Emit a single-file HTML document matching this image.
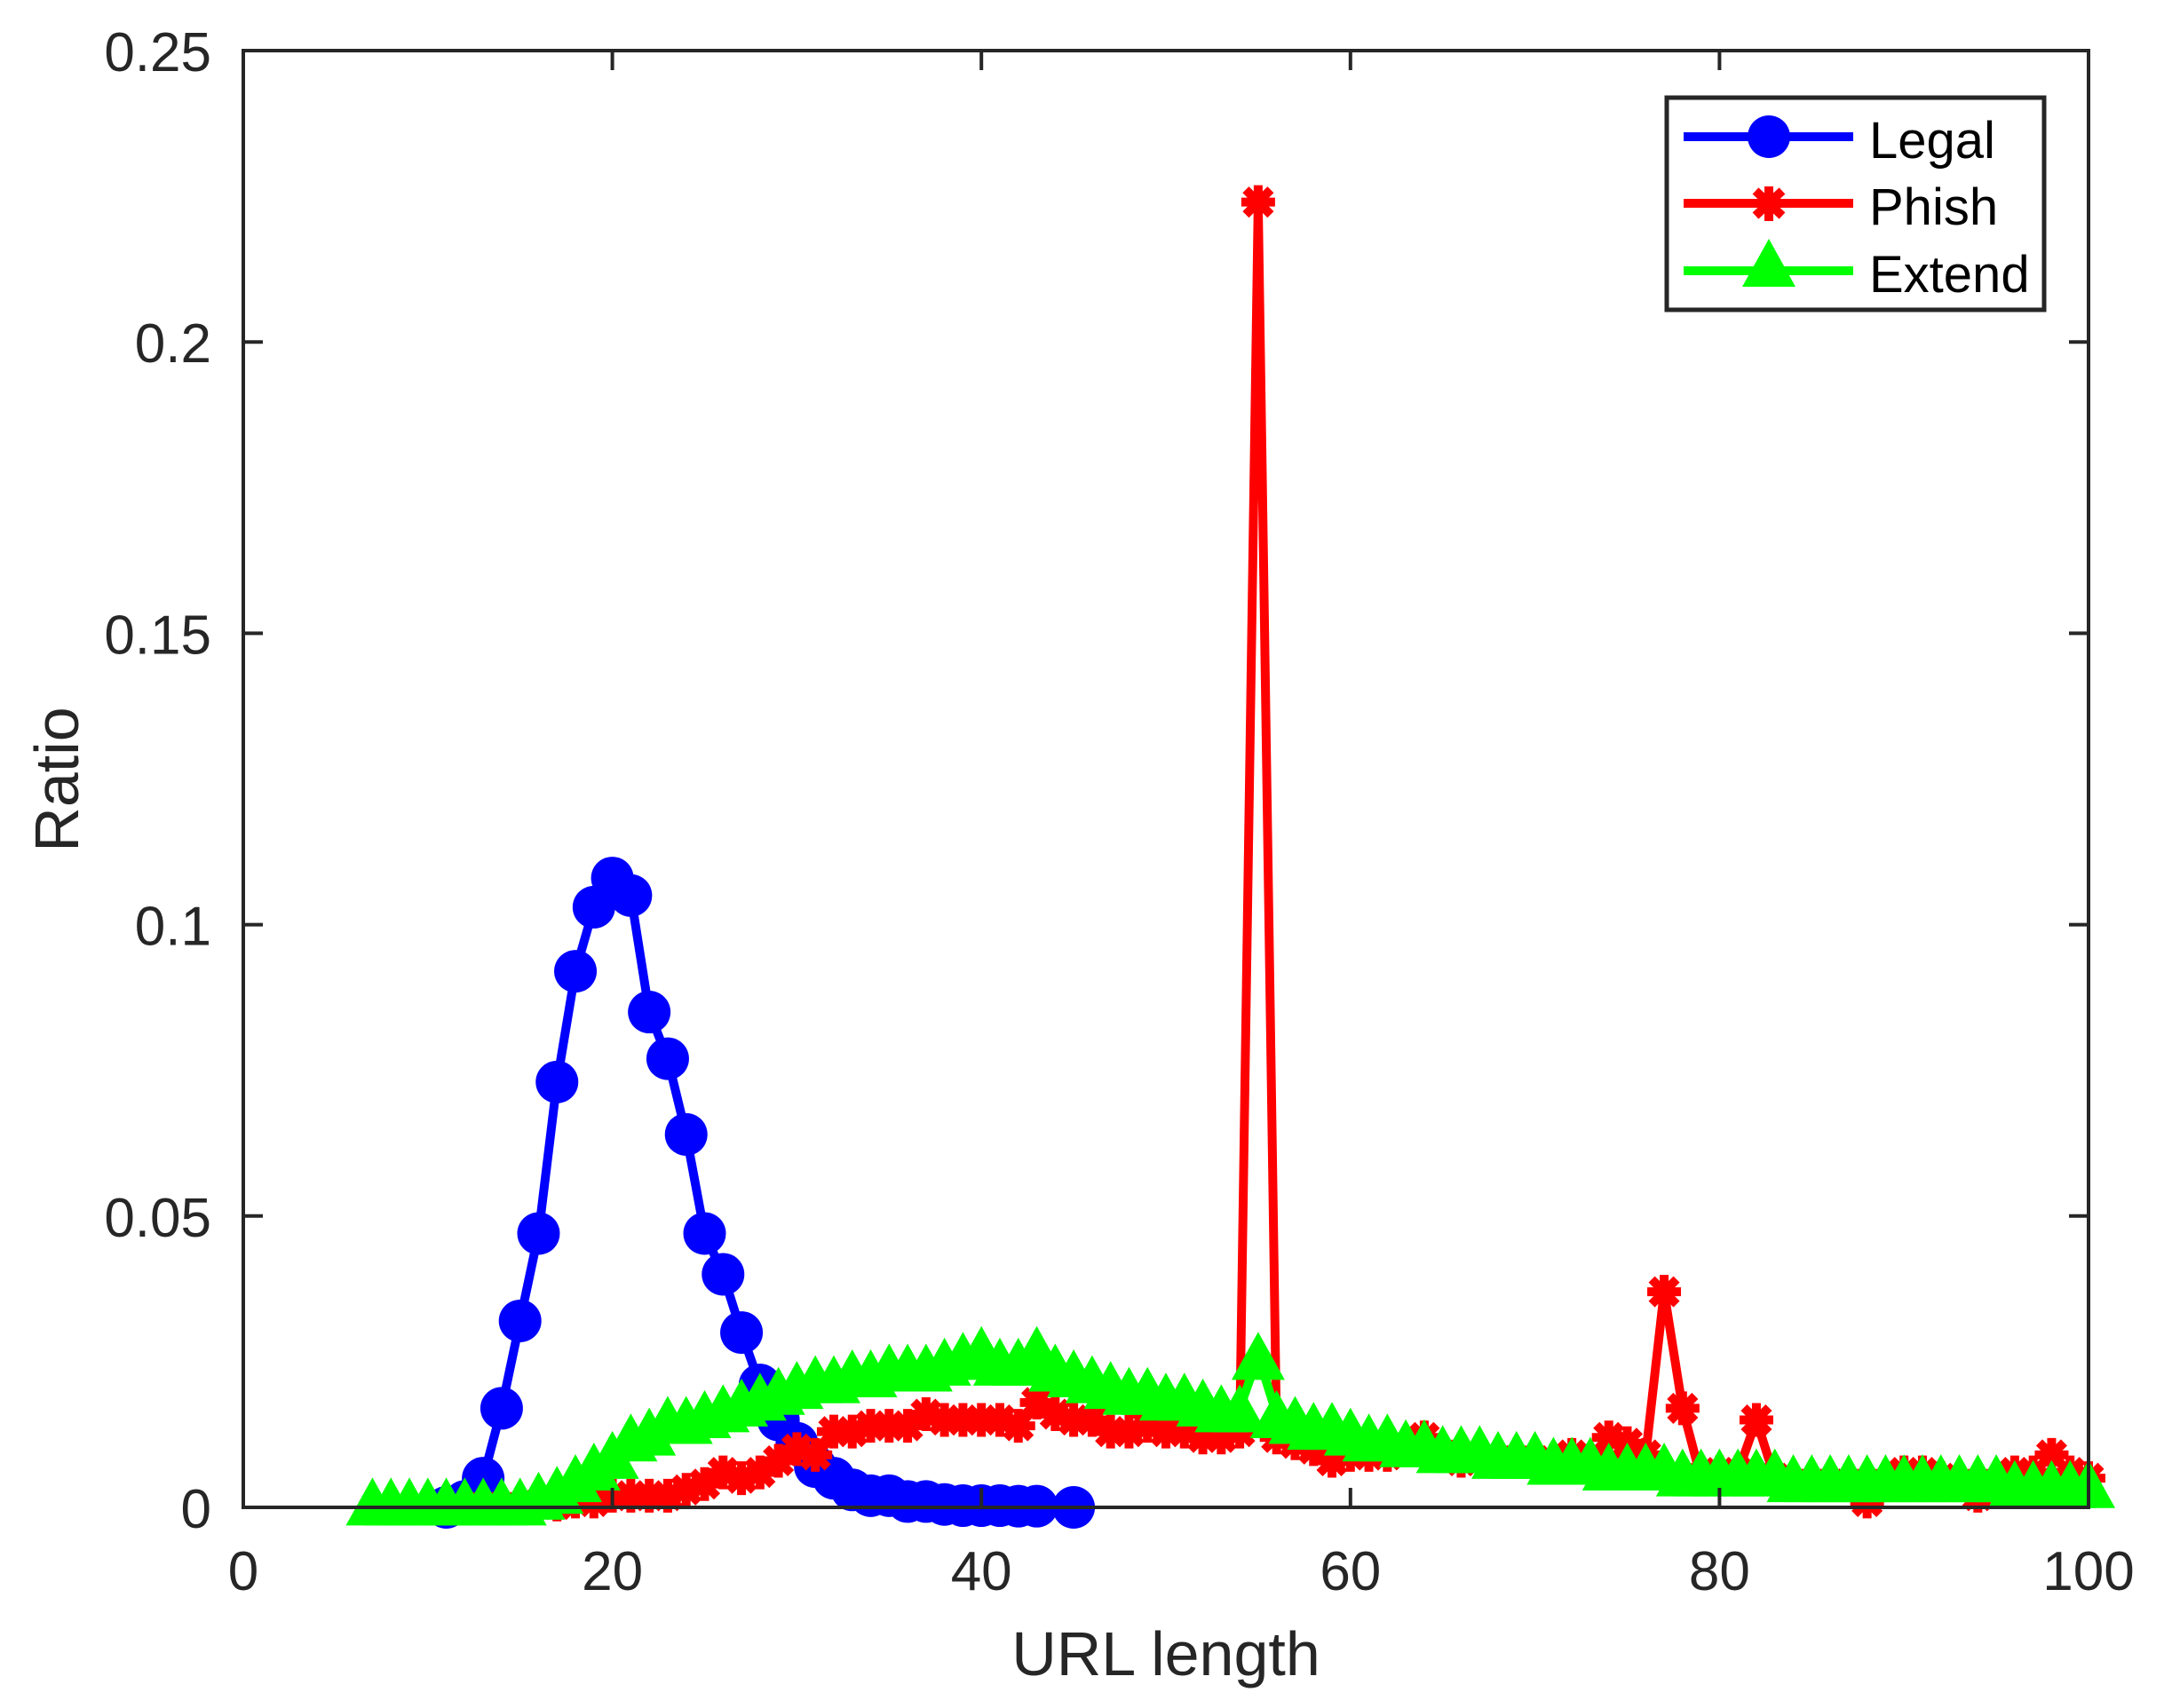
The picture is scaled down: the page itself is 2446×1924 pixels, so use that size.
<!DOCTYPE html>
<html><head><meta charset="utf-8"><style>
html,body{margin:0;padding:0;background:#fff;}
svg{display:block;}
text{font-family:"Liberation Sans",Arial,sans-serif;fill:#262626;}
</style></head><body>
<svg id="s" width="2446" height="1924" xmlns="http://www.w3.org/2000/svg">
<rect width="2446" height="1924" fill="#fff"/>
<g id="series"></g>
<g stroke="#262626" stroke-width="4" fill="none">
<rect x="274" y="57" width="2078" height="1641"/>
</g>
<g id="ticks" stroke="#262626" stroke-width="4"></g>
<g font-size="62" text-anchor="end" id="ylab"></g>
<g font-size="62" text-anchor="middle" id="xlab"></g>
<text x="1313" y="1887" font-size="70" text-anchor="middle">URL length</text>
<text transform="translate(88,878) rotate(-90)" font-size="70" text-anchor="middle">Ratio</text>
<g>
<rect x="1877" y="110" width="425" height="239" fill="#fff" stroke="#262626" stroke-width="5"/>
<line x1="1896" y1="154" x2="2087" y2="154" stroke="#0000ff" stroke-width="10"/>
<circle cx="1992" cy="154" r="24" fill="#0000ff"/>
<line x1="1896" y1="229" x2="2087" y2="229" stroke="#ff0000" stroke-width="10"/>
<g stroke="#ff0000" stroke-width="10"><line x1="1992" y1="210" x2="1992" y2="249"/><line x1="1977" y1="215" x2="2007" y2="243"/><line x1="2007" y1="215" x2="1977" y2="243"/></g>
<line x1="1896" y1="305" x2="2087" y2="305" stroke="#00ff00" stroke-width="10"/>
<polygon points="1992,269 2022,323 1962,323" fill="#00ff00"/>
<text x="2105" y="178" font-size="58" style="fill:#000">Legal</text>
<text x="2105" y="253" font-size="58" style="fill:#000">Phish</text>
<text x="2105" y="329" font-size="58" style="fill:#000">Extend</text>
</g>
</svg>
<script>
var NS="http://www.w3.org/2000/svg";
function X(v){return 274+v*20.78;}
function Y(v){return 1698-v*6564;}
function el(t,a,p){var e=document.createElementNS(NS,t);for(var k in a)e.setAttribute(k,a[k]);p.appendChild(e);return e;}
var tk=document.getElementById('ticks'),yl=document.getElementById('ylab'),xl=document.getElementById('xlab');
[0,0.05,0.1,0.15,0.2,0.25].forEach(function(v,i){var y=Y(v);
 el('line',{x1:274,y1:y,x2:296,y2:y},tk);el('line',{x1:2352,y1:y,x2:2330,y2:y},tk);
 var t=el('text',{x:238,y:y+23},yl);t.textContent=['0','0.05','0.1','0.15','0.2','0.25'][i];});
[0,20,40,60,80,100].forEach(function(v){var x=X(v);
 el('line',{x1:x,y1:1698,x2:x,y2:1676},tk);el('line',{x1:x,y1:57,x2:x,y2:79},tk);
 var t=el('text',{x:x,y:1791},xl);t.textContent=v;});
var legal=[[11,0],[12,0.001],[13,0.005],[14,0.017],[15,0.032],[16,0.047],[17,0.073],[18,0.092],[19,0.103],[20,0.108],[21,0.105],[22,0.085],[23,0.077],[24,0.064],[25,0.047],[26,0.040],[27,0.030],[28,0.021],[29,0.015],[30,0.011],[31,0.007],[32,0.005],[33,0.003],[34,0.002],[35,0.002],[36,0.001],[37,0.001],[38,0.0005],[39,0.0003],[40,0.0003],[41,0.0003],[42,0.0002],[43,0.0002],[45,0]];
var phish=[[13,0],[14,0],[15,0],[16,0.0005],[17,0.0005],[18,0.001],[19,0.001],[20,0.002],[21,0.002],[22,0.002],[23,0.002],[24,0.003],[25,0.004],[26,0.006],[27,0.005],[28,0.006],[29,0.008],[30,0.010],[31,0.009],[32,0.013],[33,0.013],[34,0.014],[35,0.014],[36,0.014],[37,0.016],[38,0.015],[39,0.015],[40,0.015],[41,0.015],[42,0.014],[43,0.018],[44,0.016],[45,0.015],[46,0.015],[47,0.013],[48,0.013],[49,0.014],[50,0.013],[51,0.013],[52,0.012],[53,0.012],[54,0.013],[55,0.224],[56,0.012],[57,0.011],[58,0.010],[59,0.008],[60,0.009],[61,0.009],[62,0.009],[63,0.010],[64,0.012],[65,0.009],[66,0.008],[67,0.008],[68,0.008],[69,0.008],[70,0.008],[71,0.008],[72,0.009],[73,0.008],[74,0.012],[75,0.011],[76,0.009],[77,0.037],[78,0.017],[79,0.005],[80,0.006],[81,0.006],[82,0.015],[83,0.005],[84,0.004],[85,0.004],[86,0.004],[87,0.004],[88,0.001],[89,0.004],[90,0.006],[91,0.006],[92,0.005],[93,0.004],[94,0.002],[95,0.004],[96,0.006],[97,0.006],[98,0.009],[99,0.006],[100,0.005]];
var ext=[[7,0.001],[8,0.001],[9,0.001],[10,0.001],[11,0.001],[12,0.001],[13,0.001],[14,0.001],[15,0.001],[16,0.002],[17,0.003],[18,0.005],[19,0.007],[20,0.009],[21,0.012],[22,0.013],[23,0.015],[24,0.015],[25,0.016],[26,0.017],[27,0.018],[28,0.019],[29,0.020],[30,0.021],[31,0.022],[32,0.022],[33,0.023],[34,0.023],[35,0.024],[36,0.024],[37,0.024],[38,0.025],[39,0.026],[40,0.027],[41,0.025],[42,0.025],[43,0.027],[44,0.024],[45,0.023],[46,0.022],[47,0.021],[48,0.020],[49,0.020],[50,0.019],[51,0.019],[52,0.018],[53,0.017],[54,0.017],[55,0.026],[56,0.016],[57,0.015],[58,0.014],[59,0.014],[60,0.013],[61,0.012],[62,0.012],[63,0.011],[64,0.011],[65,0.010],[66,0.010],[67,0.010],[68,0.009],[69,0.009],[70,0.009],[71,0.008],[72,0.008],[73,0.008],[74,0.007],[75,0.007],[76,0.007],[77,0.007],[78,0.006],[79,0.006],[80,0.006],[81,0.006],[82,0.006],[83,0.006],[84,0.005],[85,0.005],[86,0.005],[87,0.005],[88,0.005],[89,0.005],[90,0.005],[91,0.005],[92,0.005],[93,0.005],[94,0.005],[95,0.005],[96,0.004],[97,0.004],[98,0.004],[99,0.004],[100,0.004]];
var g=document.getElementById('series');
function line(d,c){el('polyline',{points:d.map(function(p){return X(p[0])+','+Y(p[1]);}).join(' '),fill:'none',stroke:c,'stroke-width':10,'stroke-linejoin':'round'},g);}
line(legal,'#0000ff');
legal.forEach(function(p){el('circle',{cx:X(p[0]),cy:Y(p[1]),r:24,fill:'#0000ff'},g);});
line(phish,'#ff0000');
phish.forEach(function(p){var x=X(p[0]),y=Y(p[1]);var s=el('g',{stroke:'#ff0000','stroke-width':10},g);
 el('line',{x1:x,y1:y-19,x2:x,y2:y+19},s);el('line',{x1:x-19,y1:y,x2:x+19,y2:y},s);
 el('line',{x1:x-14,y1:y-14,x2:x+14,y2:y+14},s);el('line',{x1:x+14,y1:y-14,x2:x-14,y2:y+14},s);});
line(ext,'#00ff00');
ext.forEach(function(p){var x=X(p[0]),y=Y(p[1]);el('polygon',{points:x+','+(y-27)+' '+(x+30)+','+(y+27)+' '+(x-30)+','+(y+27),fill:'#00ff00'},g);});
</script>
</body></html>
